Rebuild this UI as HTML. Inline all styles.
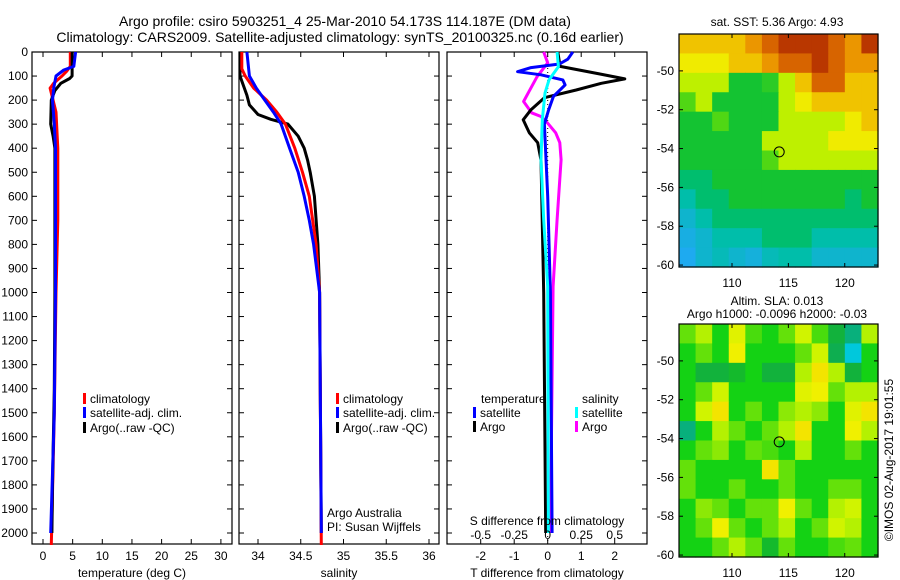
<!DOCTYPE html>
<html><head><meta charset="utf-8"><style>
html,body{margin:0;padding:0;background:#fff;}
svg{display:block;font-family:"Liberation Sans",sans-serif;}
</style></head><body>
<svg id="fig" width="900" height="580" viewBox="0 0 900 580" xmlns="http://www.w3.org/2000/svg"></svg>
<script>
// ---------- data ----------
const depthTicks=[0,100,200,300,400,500,600,700,800,900,1000,1100,1200,1300,1400,1500,1600,1700,1800,1900,2000];
const tempTicks=[0,5,10,15,20,25,30];
const salTicks=[34,34.5,35,35.5,36];
const tdiffTicks=[-2,-1,0,1,2];
const sdiffTicks=[-0.5,-0.25,0,0.25,0.5];
const sdiffTickLabels=["-0.5","-0.25","0","0.25","0.5"];
const tempClimDepth=[0,60,80,100,130,150,250,400,700,1000,1500,2050];
const tempClimVal=[4.6,4.6,4.0,3.2,1.8,1.2,2.2,2.5,2.5,2.2,1.9,1.4];
const tempSatDepth=[0,60,75,100,150,200,300,400,1000,1500,2000];
const tempSatVal=[5.5,5.2,3.5,2.2,1.8,1.6,1.9,2.1,2.1,1.9,1.3];
const tempArgoDepth=[0,100,110,130,160,200,300,350,400,1000,1400,1800,2000];
const tempArgoVal=[4.93,4.9,4.5,3.0,2.0,1.4,1.3,1.7,2.0,2.0,1.9,1.6,1.5];
const salClimDepth=[0,70,100,150,200,250,300,400,500,600,800,1000,2050];
const salClimVal=[33.81,33.81,33.85,33.95,34.1,34.22,34.32,34.43,34.52,34.6,34.68,34.72,34.74];
const salSatDepth=[0,100,150,200,250,300,400,500,600,700,800,1000,2000];
const salSatVal=[33.87,33.9,33.98,34.08,34.18,34.27,34.37,34.47,34.54,34.6,34.65,34.72,34.74];
const salArgoDepth=[0,100,130,180,220,260,280,300,350,400,450,500,600,800,1000,2000];
const salArgoVal=[33.79,33.79,33.82,33.87,33.9,34.0,34.15,34.35,34.47,34.54,34.58,34.61,34.66,34.7,34.72,34.74];
const dTSatDepth=[0,30,50,65,82,95,116,137,185,240,300,600,1000,2000];
const dTSatVal=[0.75,0.6,0.35,-0.5,-0.9,-0.2,0.45,0.52,0.17,0.03,-0.1,0,0.08,0.13];
const dTArgoDepth=[0,60,90,112,130,158,190,240,282,336,377,450,1000,2000];
const dTArgoVal=[0.3,0.37,1.5,2.3,1.6,0.85,-0.1,-0.5,-0.73,-0.55,-0.3,-0.2,-0.12,-0.06];
const dSSatDepth=[0,61,116,171,282,448,697,975,2000];
const dSSatVal=[0.07,0.08,0.01,-0.02,-0.04,-0.05,-0.03,0,0.005];
const dSArgoDepth=[0,45,103,165,206,253,268,296,336,377,448,697,975,2000];
const dSArgoVal=[-0.03,0,-0.08,-0.14,-0.18,-0.12,-0.05,0,0.06,0.09,0.1,0.07,0.04,0.02];
const lonTicks=[110,115,120];
const latTicks=[-50,-52,-54,-56,-58,-60];
const sstGrid=[
[7,7,7,7,7.5,8,8.5,8.5,8.5,8,7.5,8.5],
[6.5,6.5,6.5,7,7,7.5,8,8,8.5,8,7.5,7.5],
[6,6,6,5,5,5.2,6,7,8,8,7,7],
[5.5,6,5,5,5,5,6,6.5,7,7,7,7],
[5,5,5.5,5,5,5,6,6,6,6,6.5,7],
[5,5,5,5,5,6,6,6,6,6.5,6.5,6.5],
[5,5,5,5,5,5.5,6,6,6,6,6,6],
[4.5,4.5,5,5,5,5,5,5,5,5,5,5],
[4,4.5,4.5,5,5,5,5,5,5,5,4.5,5],
[3.5,4,4.5,4.5,4.5,4.5,4.5,4.5,4.5,4.5,4.5,4.5],
[3.2,3.5,4,4,4,4.5,4.5,4.5,4,4,4,4],
[3,3.5,3.8,3.5,3.3,3.8,4,4,3.5,3.5,3.5,3.5]];
const slaGrid=[
[0.3,0.5,0,0.7,0.2,0,0.3,0.6,0.2,-0.3,-0.6,0.5],
[0,0.3,0,0.8,0,0,0,0.3,0.6,-0.4,-1,0],
[0,-0.3,-0.3,-0.2,0,-0.3,-0.3,0.5,0.9,0.5,-0.3,0],
[0,0.3,0.6,0,0,0,0,0.7,0.8,0.3,0.5,0.5],
[0,0.6,0.9,0,0.3,0,0.4,0.5,0.4,0,0.7,0.9],
[-0.6,0,0.5,0.3,0,0.3,0.5,0.9,0,0,0.8,0.5],
[0,0.3,0.4,0,0.3,0.2,0,0.5,0,0,0.3,0],
[0.3,0,0,0,0,0.9,0.3,0,0,0,0,0],
[0.3,0,0,0.3,0,0,0.3,0,0,0.3,0.3,0],
[0,0.4,0.3,0,0.3,0.3,0.8,0.3,0,0.5,0.6,0],
[0,0.3,0.8,0.3,0,0.3,0.5,0,0.3,0.6,0.5,0],
[0,0,0.3,0.5,0.3,-0.2,0.3,0,0,0.2,0.3,0]];
const argoLon=114.187, argoLat=-54.173;

// ---------- helpers ----------
const NS="http://www.w3.org/2000/svg";
const svg=document.getElementById('fig');
function el(tag,attrs,parent){const e=document.createElementNS(NS,tag);for(const k in attrs)e.setAttribute(k,attrs[k]);(parent||svg).appendChild(e);return e;}
function txt(x,y,s,size,anchor,parent){const t=el('text',{x:x,y:y,'font-size':size,'text-anchor':anchor||'middle',fill:'#000'},parent);t.textContent=s;return t;}
const TOP=52, PXM=0.2405, BOT=544;
const yD=d=>TOP+d*PXM;
const xT=v=>43+v*5.93;
const xS=v=>258+(v-34)*85.5;
const xDT=v=>547.7+v*33.5;
const xDS=v=>547.7+v*134;

// titles
let t1=txt(345,26,"Argo profile: csiro 5903251_4 25-Mar-2010 54.173S 114.187E (DM data)",14);


let t2=txt(340,42,"Climatology: CARS2009. Satellite-adjusted climatology: synTS_20100325.nc (0.16d earlier)",14);



function panel(name,x0,x1){
  const g=el('g',{});
  
  
  el('rect',{x:x0,y:TOP,width:x1-x0,height:BOT-TOP,fill:'#fff',stroke:'#000','stroke-width':1.2},g);
  depthTicks.forEach(d=>{
    el('line',{x1:x0,x2:x0+5,y1:yD(d),y2:yD(d),stroke:'#000'},g);
    el('line',{x1:x1,x2:x1-5,y1:yD(d),y2:yD(d),stroke:'#000'},g);
  });
  return g;
}
function xticks(g,ticks,fx,labels,ly){
  ticks.forEach((v,i)=>{
    el('line',{x1:fx(v),x2:fx(v),y1:TOP,y2:TOP+5,stroke:'#000'},g);
    el('line',{x1:fx(v),x2:fx(v),y1:BOT,y2:BOT-5,stroke:'#000'},g);
    if(labels){const t=txt(fx(v),ly,labels[i],12,'middle',g);
      
      }
  });
}
function line(g,fx,depths,vals,color,w,name){
  const pts=depths.map((d,i)=>fx(vals[i]).toFixed(1)+','+yD(d).toFixed(1)).join(' ');
  const p=el('polyline',{points:pts,fill:'none',stroke:color,'stroke-width':w||3,'stroke-linejoin':'round'},g);
  
  
  return p;
}
function legend(g,x,y,color,label,name){
  const r=el('rect',{x:x,y:y-10,width:3,height:11,fill:color},g);
  
  
  const t=txt(x+7,y,label,12,'start',g);
  
  
}

// panel 1 temperature
const g1=panel('temperature-panel',32,232);
depthTicks.forEach(d=>{const t=txt(28,yD(d)+4,String(d),12,'end',g1);
  
  });
xticks(g1,tempTicks,xT,tempTicks.map(String),560);
line(g1,xT,tempClimDepth,tempClimVal,'#f00',3,'temp-climatology-line');
line(g1,xT,tempArgoDepth,tempArgoVal,'#000',3,'temp-argo-line');
line(g1,xT,tempSatDepth,tempSatVal,'#00f',3,'temp-satellite-line');
let xl1=txt(132,577,"temperature (deg C)",12,'middle',g1);


legend(g1,83,403,'#f00','climatology','legend-climatology');
legend(g1,83,417,'#00f','satellite-adj. clim.','legend-satellite');
legend(g1,83,432,'#000','Argo(..raw -QC)','legend-argo');

// panel 2 salinity
const g2=panel('salinity-panel',239,439);
xticks(g2,salTicks,xS,salTicks.map(String),560);
line(g2,xS,salArgoDepth,salArgoVal,'#000',3,'sal-argo-line');
line(g2,xS,salClimDepth,salClimVal,'#f00',3,'sal-climatology-line');
line(g2,xS,salSatDepth,salSatVal,'#00f',3,'sal-satellite-line');
let xl2=txt(339,577,"salinity",12,'middle',g2);


legend(g2,336,403,'#f00','climatology','legend-climatology-2');
legend(g2,336,417,'#00f','satellite-adj. clim.','legend-satellite-2');
legend(g2,336,432,'#000','Argo(..raw -QC)','legend-argo-2');
let ai=txt(327,517,"Argo Australia",12,'start',g2);


let pi=txt(327,531,"PI: Susan Wijffels",12,'start',g2);



// panel 3 differences
const g3=panel('difference-panel',447,647);
xticks(g3,tdiffTicks,xDT,tdiffTicks.map(String),560);
el('line',{x1:xDT(0),x2:xDT(0),y1:TOP,y2:BOT,stroke:'#000','stroke-dasharray':'1,3'},g3);
line(g3,xDS,dSArgoDepth,dSArgoVal,'#f0f',3,'sdiff-argo-line');
line(g3,xDT,dTArgoDepth,dTArgoVal,'#000',3,'tdiff-argo-line');
line(g3,xDT,dTSatDepth,dTSatVal,'#00f',3,'tdiff-satellite-line');
line(g3,xDS,dSSatDepth,dSSatVal,'#0ff',3,'sdiff-satellite-line');
sdiffTicks.forEach((v,i)=>{const t=txt(xDS(v),539,sdiffTickLabels[i],12,'middle',g3);
  
  });
let st=txt(547,525,"S difference from climatology",12,'middle',g3);


let xl3=txt(547,577,"T difference from climatology",12,'middle',g3);


let lt=txt(481,403,"temperature",12,'start',g3);


let ls=txt(582,403,"salinity",12,'start',g3);


legend(g3,473,417,'#00f','satellite','legend-t-satellite');
legend(g3,473,431,'#000','Argo','legend-t-argo');
legend(g3,575,417,'#0ff','satellite','legend-s-satellite');
legend(g3,575,431,'#f0f','Argo','legend-s-argo');

// maps
function interp(stops,v){
  if(v<=stops[0][0])return stops[0][1];
  for(let i=1;i<stops.length;i++){if(v<=stops[i][0]){const a=stops[i-1],b=stops[i];const f=(v-a[0])/(b[0]-a[0]);
    const c=a[1].map((x,k)=>Math.round(x+(b[1][k]-x)*f));return c;}}
  return stops[stops.length-1][1];
}
const sstStops=[[3,[30,170,240]],[4,[0,190,170]],[4.5,[0,190,110]],[5,[20,195,50]],[5.5,[80,215,20]],[6,[190,240,0]],[6.5,[240,235,0]],[7,[240,195,0]],[7.5,[235,150,0]],[8,[215,100,0]],[8.5,[185,55,0]],[9,[165,10,0]]];
const slaStops=[[-1,[0,200,220]],[-0.5,[10,170,100]],[-0.25,[20,180,50]],[0,[20,210,20]],[0.3,[100,225,10]],[0.55,[200,245,0]],[0.8,[240,240,0]],[1,[245,215,0]]];
function map(name,y0,grid,stops,title1,title2){
  const x0=679,x1=878,y1=y0+233;
  const g=el('g',{});
  
  
  const lonMin=105.3,lonMax=122.95,latTop=-48.1,latBot=-60.1;
  const fx=lon=>x0+(lon-lonMin)/(lonMax-lonMin)*(x1-x0);
  const fy=lat=>y0+(latTop-lat)/(latTop-latBot)*(y1-y0);
  const nr=grid.length,nc=grid[0].length,cw=(x1-x0)/nc,ch=(y1-y0)/nr;
  grid.forEach((row,r)=>row.forEach((v,c)=>{
    const col=interp(stops,v);
    const cell=el('rect',{x:(x0+c*cw).toFixed(2),y:(y0+r*ch).toFixed(2),width:(cw+0.6).toFixed(2),height:(ch+0.6).toFixed(2),fill:'rgb('+col.join(',')+')'},g);
    
    
  }));
  el('rect',{x:x0,y:y0,width:x1-x0,height:y1-y0,fill:'none',stroke:'#000','stroke-width':1.2},g);
  lonTicks.forEach(l=>{
    el('line',{x1:fx(l),x2:fx(l),y1:y0,y2:y0+4,stroke:'#000'},g);
    el('line',{x1:fx(l),x2:fx(l),y1:y1,y2:y1-4,stroke:'#000'},g);
    const t=txt(fx(l),y1+20,String(l),12,'middle',g);
    
    
  });
  latTicks.forEach(l=>{
    el('line',{x1:x0,x2:x0+4,y1:fy(l),y2:fy(l),stroke:'#000'},g);
    el('line',{x1:x1,x2:x1-4,y1:fy(l),y2:fy(l),stroke:'#000'},g);
    const t=txt(x0-5,fy(l)+4,String(l),12,'end',g);
    
    
  });
  const m=el('circle',{cx:fx(argoLon),cy:fy(argoLat),r:5,fill:'none',stroke:'#000','stroke-width':1},g);
  
  
  const tt=txt(777,y0-(title2?19:8),title1,12,'middle',g);
  
  
  if(title2){const t2=txt(777,y0-6,title2,12,'middle',g);
    
    }
}
map('sst-map',34,sstGrid,sstStops,"sat. SST: 5.36 Argo: 4.93");
map('sla-map',324,slaGrid,slaStops,"Altim. SLA: 0.013","Argo h1000: -0.0096 h2000: -0.03");
const cp=txt(0,0,"©IMOS 02-Aug-2017 19:01:55",12,'middle');
cp.setAttribute('transform','translate(893,460) rotate(-90)');


</script>
</body></html>
